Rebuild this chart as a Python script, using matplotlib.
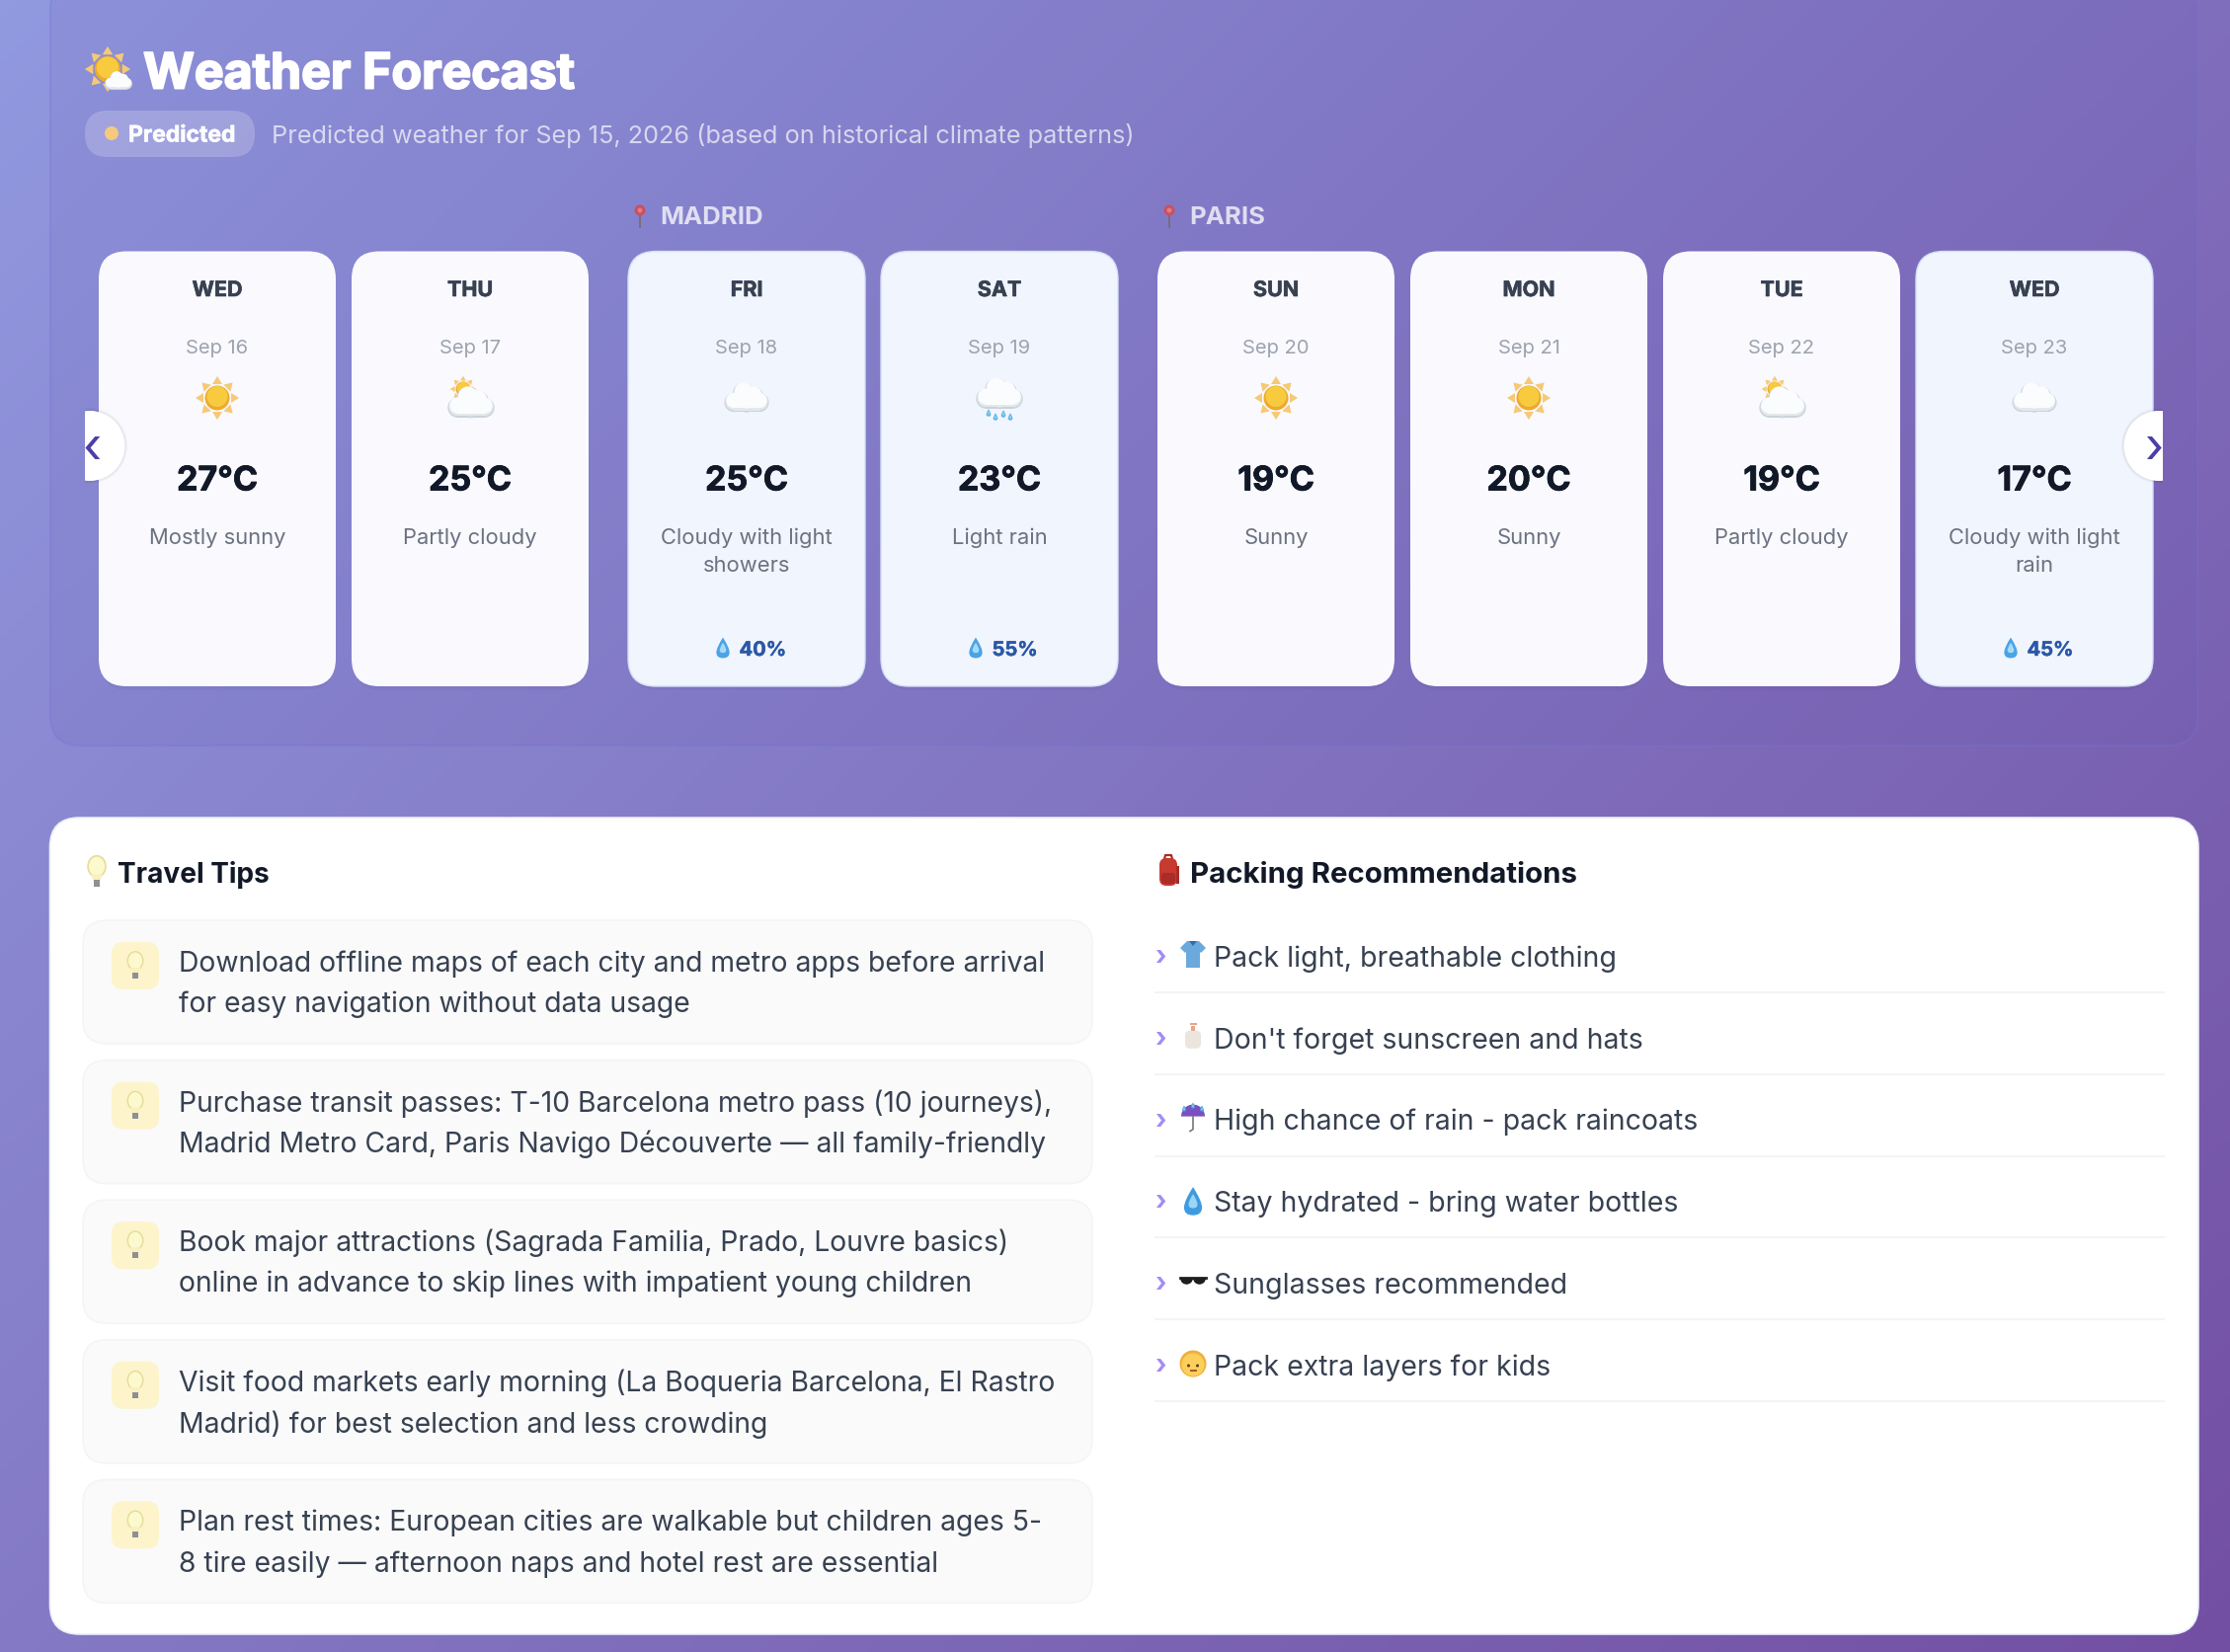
import numpy as np
import matplotlib
matplotlib.use('Agg')
import matplotlib.pyplot as plt
import matplotlib.patheffects as pe
from matplotlib.colors import LinearSegmentedColormap
from matplotlib.patches import Circle, Ellipse, FancyBboxPatch, PathPatch, Polygon, Rectangle, Wedge
from matplotlib.path import Path

W, H = 2258, 1674
FONT = ['Inter', 'DejaVu Sans']

# forecast cards
days = ['WED', 'THU', 'FRI', 'SAT', 'SUN', 'MON', 'TUE', 'WED']
dates = ['Sep 16', 'Sep 17', 'Sep 18', 'Sep 19', 'Sep 20', 'Sep 21', 'Sep 22', 'Sep 23']
temps = [27, 25, 25, 23, 19, 20, 19, 17]
conditions = [['Mostly sunny'], ['Partly cloudy'], ['Cloudy with light', 'showers'], ['Light rain'],
              ['Sunny'], ['Sunny'], ['Partly cloudy'], ['Cloudy with light', 'rain']]
rain_chance = [None, None, 40, 55, None, None, None, 45]
weather_icons = ['sun', 'partly', 'cloud', 'rain', 'sun', 'sun', 'partly', 'cloud']
cities = {2: 'MADRID', 4: 'PARIS'}  # card index where the city starts

tips = [
    ['Download offline maps of each city and metro apps before arrival',
     'for easy navigation without data usage'],
    ['Purchase transit passes: T-10 Barcelona metro pass (10 journeys),',
     'Madrid Metro Card, Paris Navigo Découverte — all family-friendly'],
    ['Book major attractions (Sagrada Familia, Prado, Louvre basics)',
     'online in advance to skip lines with impatient young children'],
    ['Visit food markets early morning (La Boqueria Barcelona, El Rastro',
     'Madrid) for best selection and less crowding'],
    ['Plan rest times: European cities are walkable but children ages 5-',
     '8 tire easily — afternoon naps and hotel rest are essential'],
]
packing = ["Pack light, breathable clothing", "Don't forget sunscreen and hats",
           'High chance of rain - pack raincoats', 'Stay hydrated - bring water bottles',
           'Sunglasses recommended', 'Pack extra layers for kids']
packing_icons = ['shirt', 'bottle', 'umbrella', 'drop', 'glasses', 'baby']


fig = plt.figure(figsize=(W / 100, H / 100), dpi=100)
ax = fig.add_axes([0, 0, 1, 1])
ax.set_xlim(0, W)
ax.set_ylim(H, 0)
ax.axis('off')


def text(x, y, s, size, color='#111827', weight='normal', ha='left', alpha=None, heavy=0):
    t = ax.text(x, y, s, fontsize=size, color=color, fontweight=weight, ha=ha, va='center_baseline',
                family=FONT, alpha=alpha, zorder=6)
    if heavy:
        # Inter only comes in bold here, thicken for the heavier headings
        t.set_path_effects([pe.withStroke(linewidth=heavy, foreground=color, alpha=alpha)])


def box(x0, y0, x1, y1, r, fc, ec='none', lw=0, alpha=None, z=2):
    p = FancyBboxPatch((x0, y0), x1 - x0, y1 - y0, boxstyle=f'round,pad=0,rounding_size={r}',
                       fc=fc, ec=ec, lw=lw, alpha=alpha, zorder=z)
    ax.add_patch(p)
    return p


def circle(x, y, r, c, z=5):
    ax.add_patch(Circle((x, y), r, fc=c, ec='none', zorder=z))


def draw_sun(x, y, s=1.0):
    for a in np.deg2rad(np.arange(0, 360, 45)):
        d = np.array([np.cos(a), np.sin(a)])
        n = np.array([-d[1], d[0]])
        pts = [(x + d[0] * 22 * s, y + d[1] * 22 * s),
               (x + d[0] * 14 * s + n[0] * 5 * s, y + d[1] * 14 * s + n[1] * 5 * s),
               (x + d[0] * 14 * s - n[0] * 5 * s, y + d[1] * 14 * s - n[1] * 5 * s)]
        ax.add_patch(Polygon(pts, fc='#f6c977', ec='none', zorder=5))
    circle(x, y, 12.5 * s, '#eea92e')
    circle(x, y - 1.5 * s, 10.5 * s, '#f8cb3e')


def draw_cloud(x, y, s=1.0):
    # outline, lower shade, then the bright top
    for c, grow, dy in (('#c9d3da', 1.0, 0.6), ('#e3e8ec', 0, 0), ('#fbfcfd', -0.8, -1.6)):
        for ox, oy, r in ((-13, 4, 8.5), (13, 4, 8.5), (-3, -5, 10), (7, -2, 9), (0, 5, 8)):
            circle(x + ox * s, y + (oy + dy) * s, (r + grow) * s, c)
        ax.add_patch(Rectangle((x - 13 * s, y + (dy + 2) * s), 26 * s, (10.5 + grow) * s, fc=c, ec='none', zorder=5))


def draw_drop(x, y, s=1.0, c1='#4ba3e6', c2='#a5dbf7'):
    for c, k in ((c1, 1.0), (c2, 0.5)):
        a, b = 7 * s * k, 11 * s * k
        v = [(x, y - b), (x - a, y), (x - a, y + 0.45 * b), (x - a, y + b), (x, y + b),
             (x + a, y + b), (x + a, y + 0.45 * b), (x + a, y), (x, y - b)]
        codes = [Path.MOVETO] + [Path.CURVE3] * 8
        ax.add_patch(PathPatch(Path(v, codes), fc=c, ec='none', zorder=5))


def draw_weather(kind, x, y):
    if kind == 'sun':
        draw_sun(x, y)
    elif kind == 'cloud':
        draw_cloud(x, y)
    elif kind == 'partly':
        draw_sun(x - 7, y - 9, 0.6)
        draw_cloud(x + 1, y + 5, 1.05)
    else:
        draw_cloud(x, y - 4, 1.05)
        for ox, oy in ((-11, 15), (-4, 19), (4, 16), (11, 19)):
            draw_drop(x + ox, y + oy, 0.34, '#63b4e8', '#8fcdf2')


def draw_bulb(x, y, s=1.0):
    ax.add_patch(Ellipse((x, y - 4 * s), 17 * s, 20 * s, fc='#e6dc9a', ec='none', zorder=5))
    ax.add_patch(Ellipse((x, y - 4 * s), 14 * s, 17 * s, fc='#fdf9cf', ec='none', zorder=5))
    ax.add_patch(Polygon([(x - 5 * s, y + 3 * s), (x + 5 * s, y + 3 * s), (x + 3 * s, y + 9 * s), (x - 3 * s, y + 9 * s)],
                         fc='#f8f1bd', ec='none', zorder=5))
    ax.add_patch(Rectangle((x - 3 * s, y + 8 * s), 6 * s, 6 * s, fc='#8e9094', ec='none', zorder=5))


def draw_pin(x, y):
    ax.plot([x, x], [y, y + 14], color='#7b6a78', lw=1.3, zorder=5)
    circle(x, y - 3, 5.5, '#c9505f')
    circle(x, y - 3, 2.5, '#e07c84')


def draw_sun_cloud(x, y):
    draw_sun(x - 2, y - 1, 1.05)
    draw_cloud(x + 9, y + 11, 0.62)


def draw_backpack(x, y):
    ax.plot([x - 4, x - 3, x + 3, x + 4], [y - 13, y - 17, y - 17, y - 13], color='#a92c26', lw=1.6, zorder=5)
    box(x - 9, y - 14, x + 9, y + 14, 7, '#c8392f', z=5)
    box(x - 7, y + 1, x + 7, y + 12, 3, '#a92c26', z=5)
    ax.add_patch(Rectangle((x + 8, y - 6), 3, 18, fc='#a92c26', ec='none', zorder=5))


def draw_packing(kind, x, y):
    if kind == 'shirt':
        pts = [(x - 6, y - 14), (x + 6, y - 14), (x + 13, y - 7), (x + 8, y - 2), (x + 7, y - 3),
               (x + 7, y + 13), (x - 7, y + 13), (x - 7, y - 3), (x - 8, y - 2), (x - 13, y - 7)]
        ax.add_patch(Polygon(pts, fc='#6ba9dc', ec='none', zorder=5))
        ax.add_patch(Polygon([(x - 4, y - 14), (x + 4, y - 14), (x, y - 9)], fc='#2f6fa8', ec='none', zorder=5))
    elif kind == 'bottle':
        box(x - 8, y - 6, x + 8, y + 12, 5, '#ece5dd', z=5)
        ax.add_patch(Rectangle((x - 2, y - 11), 4, 5, fc='#e8a58c', ec='none', zorder=5))
        ax.add_patch(Rectangle((x - 3, y - 14), 7, 2, fc='#e8a58c', ec='none', zorder=5))
    elif kind == 'umbrella':
        ax.add_patch(Wedge((x, y - 2), 12, 180, 360, fc='#7a4fc0', ec='none', zorder=5))
        ax.plot([x, x, x - 3], [y - 2, y + 11, y + 13], color='#777777', lw=1.2, zorder=5)
        for ox, oy in ((-9, -10), (0, -13), (9, -10)):
            draw_drop(x + ox, y + oy, 0.28, '#4ba3e6', '#8fcdf2')
    elif kind == 'drop':
        draw_drop(x, y + 1, 1.3, '#3f9be0', '#9bd6f6')
    elif kind == 'glasses':
        ax.plot([x - 13, x + 13], [y - 4, y - 4], color='#222222', lw=2, zorder=5)
        ax.add_patch(Wedge((x - 6.5, y - 4), 6.5, 0, 180, fc='#1e1e1e', ec='none', zorder=5))
        ax.add_patch(Wedge((x + 6.5, y - 4), 6.5, 0, 180, fc='#1e1e1e', ec='none', zorder=5))
    else:
        circle(x, y, 13.5, '#f0b03c')
        circle(x, y + 1, 11.5, '#fbcf5c')
        circle(x - 4.5, y + 2, 1.5, '#5a3d1e')
        circle(x + 4.5, y + 2, 1.5, '#5a3d1e')
        ax.plot([x - 2.5, x + 2.5], [y + 7, y + 7], color='#a9572a', lw=1.4, zorder=5)


# page background: 135deg gradient
grad = LinearSegmentedColormap.from_list('bg', ['#9199df', '#734fa3'])
xx, yy = np.meshgrid(np.arange(0, W, 4), np.arange(0, H, 4))
ax.imshow((xx + yy) / (W + H), cmap=grad, extent=(0, W, H, 0), aspect='auto', vmin=0, vmax=1, zorder=0)

# forecast panel, top edge runs off the page
box(51, -20, 2225, 756, 30, (0.38, 0.32, 0.68, 0.10), ec=(0.45, 0.45, 0.85, 0.3), lw=1.5, z=1)

draw_sun_cloud(111, 72)
text(145, 72, 'Weather Forecast', 36, color='white', weight='bold', heavy=1.4)
box(86, 113, 258, 160, 23, 'white', alpha=0.2)
circle(113, 136, 7, '#f5c97e')
text(130, 136, 'Predicted', 16.5, color='white', weight='bold', alpha=0.85, heavy=0.5)
text(275, 135, 'Predicted weather for Sep 15, 2026 (based on historical climate patterns)', 18.2,
     color='white', alpha=0.68)

card_w, gap, group_gap = 240, 16, 40
x = 100
for i in range(len(days)):
    if i in cities:
        x += group_gap - gap
        draw_pin(x + 12, 217)
        text(x + 32, 218, cities[i], 18.5, color='white', weight='bold', alpha=0.75)
    wet = rain_chance[i] is not None
    box(x + 2, 259, x + card_w - 2, 700, 28, 'black', alpha=0.03, z=1.5)
    box(x, 255.5, x + card_w, 696, 28, '#f1f5fe' if wet else '#f9f9fe',
        ec='#d3dff8' if wet else 'none', lw=1 if wet else 0)
    cx = x + card_w / 2
    text(cx, 293, days[i], 15.5, color='#374151', weight='bold', ha='center', heavy=0.4)
    text(cx, 351, dates[i], 14.5, color='#9ca3af', ha='center')
    draw_weather(weather_icons[i], cx, 404)
    text(cx, 485, f'{temps[i]}°C', 24.5, color='#111827', weight='bold', ha='center', heavy=0.6)
    for k, line in enumerate(conditions[i]):
        text(cx, 543 + 28 * k, line, 15.8, color='#6b7280', ha='center')
    if wet:
        draw_drop(cx - 24, 657, 0.95)
        text(cx - 7.5, 658, f'{rain_chance[i]}%', 14.5, color='#2b58a6', weight='bold', heavy=0.3)
    x += card_w + gap

# scroll buttons cut off by the track edge
for cx, lo, hi, mark, mx in ((91, 86, 140, '‹', 93), (2186, 2140, 2190, '›', 2181)):
    clip = Rectangle((lo, 400), hi - lo, 110, transform=ax.transData)
    for r, c, a in ((38, 'black', 0.04), (36.5, 'black', 0.05), (35.5, 'white', 1)):
        p = Circle((cx, 452.5), r, fc=c, ec='none', alpha=a, zorder=7)
        ax.add_patch(p)
        p.set_clip_path(clip)
    ax.text(mx, 455, mark, fontsize=36, color='#4a3fa8', ha='center', va='center', family=FONT, zorder=8)

# lower white panel
box(50.5, 829, 2226, 1656, 30, 'white', ec='#eceef8', lw=1.2, z=2)
draw_bulb(98, 883, 1.15)
text(119, 883, 'Travel Tips', 20.2, color='#111827', weight='bold')
draw_backpack(1183, 884)
text(1205, 883, 'Packing Recommendations', 21.2, color='#111827', weight='bold')

tip_top, tip_h, tip_step = 933, 125, 141.6
for i, lines in enumerate(tips):
    y0 = tip_top + i * tip_step
    box(84, y0, 1106, y0 + tip_h, 24, '#fafafa', ec='#f5f5f6', lw=1.2, z=3)
    box(113, y0 + 22, 161, y0 + 70, 12, '#fdf4cb', z=4)
    draw_bulb(137, y0 + 45, 1.0)
    for k, line in enumerate(lines):
        text(181, y0 + 40 + 41.5 * k, line, 20.4, color='#374151')

pack_top, pack_step = 968, 82.8
for i, item in enumerate(packing):
    y = pack_top + i * pack_step
    ax.text(1175, y + 2, '›', fontsize=19, color='#a48bf5', fontweight='bold', ha='center', va='center',
            family=FONT, zorder=6)
    draw_packing(packing_icons[i], 1208, y)
    text(1229, y, item, 20.5, color='#374151')
    ax.plot([1170, 2191], [y + 38, y + 38], color='#f3f4f6', lw=1.5, zorder=3)

fig.savefig('out.png', dpi=100)
